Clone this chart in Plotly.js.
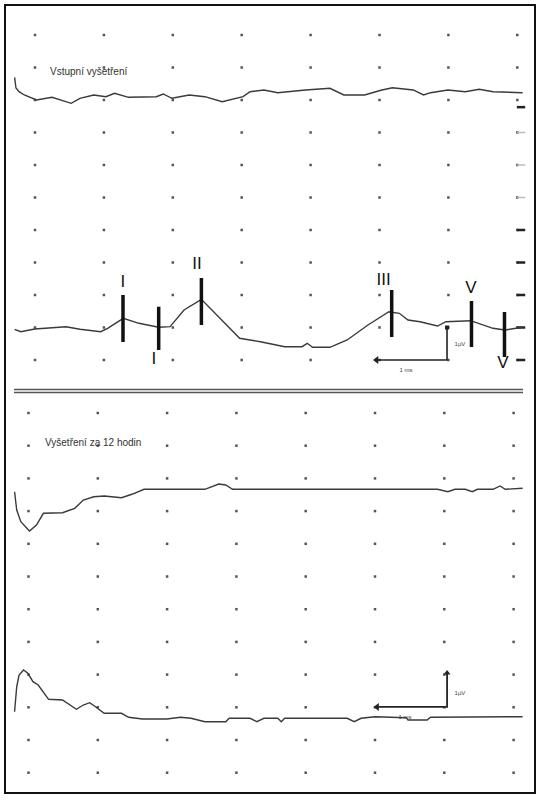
<!DOCTYPE html>
<html>
<head>
<meta charset="utf-8">
<script src="https://cdn.plot.ly/plotly-3.0.1.min.js"></script>
<style>html,body{margin:0;padding:0;background:#fff;}#chart{width:545px;height:800px;}</style>
</head>
<body>
<div id="chart"></div>
<script>
// ---------- DATA (time in ms, amplitude in µV) ----------
// Vstupní vyšetření – upper trace
const preAms = [-0.296,-0.276,-0.231,-0.155,0.022,0.248,0.525,0.652,0.853,1.029,1.155,1.357,1.761,1.861,1.987,2.238,2.466,2.717,3.020,3.120,3.322,3.524,3.927,4.280,4.482,4.784,5.035,5.187,5.489,5.640,5.742,5.993,6.245,6.447,6.649,7.077];
const preAuv = [8.698,8.369,8.255,8.154,8.000,8.083,7.898,8.052,8.154,8.102,8.206,8.083,8.102,8.185,8.052,8.154,8.102,7.948,8.102,8.255,8.308,8.225,8.308,8.360,8.154,8.154,8.308,8.378,8.308,8.154,8.225,8.308,8.255,8.329,8.255,8.225];
// Vstupní vyšetření – lower trace (with waves I–V)
const preBms = [-0.296,-0.206,-0.004,0.247,0.450,0.653,0.954,1.054,1.282,1.508,1.795,1.961,2.163,2.415,2.668,2.970,3.271,3.624,3.875,3.952,4.028,4.280,4.531,4.833,5.136,5.287,5.414,5.588,5.842,5.965,6.321,6.444,6.647,6.821,7.077];
const preBuv = [0.945,0.871,0.954,1.006,1.025,0.945,0.871,0.975,1.283,1.129,1.006,1.025,1.538,1.868,1.332,0.668,0.563,0.409,0.409,0.514,0.391,0.391,0.615,1.077,1.486,1.437,1.231,1.178,1.046,1.178,1.209,1.129,0.975,0.923,1.006];
// Vyšetření za 12 hodin – upper trace
const postAms = [-0.201,-0.170,-0.111,0.014,0.115,0.215,0.491,0.667,0.791,0.942,1.092,1.342,1.492,1.668,1.994,2.545,2.746,2.846,2.945,5.902,6.052,6.153,6.303,6.403,6.478,6.704,6.804,6.879,7.130];
const postAuv = [8.593,8.034,7.676,7.391,7.575,7.933,7.951,8.086,8.339,8.440,8.462,8.410,8.514,8.667,8.667,8.667,8.829,8.798,8.667,8.667,8.593,8.667,8.667,8.593,8.667,8.667,8.768,8.667,8.697];
// Vyšetření za 12 hodin – lower trace
const postBms = [-0.201,-0.170,-0.136,-0.071,-0.010,0.065,0.140,0.290,0.491,0.590,0.691,0.791,0.882,0.967,1.092,1.342,1.443,1.644,1.994,2.195,2.345,2.545,2.846,2.896,3.196,3.296,3.397,3.597,3.648,3.697,4.599,4.700,4.799,5.000,5.452,5.476,5.752,5.802,7.004,7.130];
const postBuv = [1.865,2.630,2.988,3.141,3.040,2.783,2.682,2.245,2.223,2.070,1.939,2.070,2.141,2.018,1.817,1.817,1.694,1.642,1.642,1.694,1.664,1.560,1.560,1.664,1.664,1.560,1.664,1.664,1.560,1.664,1.664,1.560,1.664,1.713,1.682,1.612,1.612,1.694,1.694,1.713];

// Wave markers
const peakLabels = ["I","I","II","III","V","V"];
const peakMs     = [1.277,1.795,2.415,5.177,6.335,6.814];
const peakTopUv  = [2.000,1.640,2.523,2.154,1.815,1.477];
const peakBotUv  = [0.554,0.308,1.077,0.708,0.400,0.092];
const labelMs    = [1.277,1.727,2.351,5.061,6.328,6.793];
const labelUv    = [2.385,0.000,2.923,2.431,2.185,-0.123];

// Calibration bars (1 ms × 1 µV)
const calTopMs = [4.956,5.980,5.980];
const calTopUv = [0,0,1];
const calBotMs = [5.030,6.040,6.040];
const calBotUv = [2.010,2.010,3.050];
const calLabels = ["1µV","1 ms"];

// Grid (dot raster)
const gridMsTop = [0,1,2,3,4,5,6,7];
const gridUvTop = [0,1,2,3,4,5,6,7,8,9,10];
const gridMsBot = [0,1,2,3,4,5,6,7];
const gridUvBot = [0,1,2,3,4,5,6,7,8,9,10,11];

// Right-edge reference ticks (top panel)
const tickUvDark = [0,1,2,3,4,7.78];
const tickUvLight = [5,6,7];
const tickMs = 7.054;

// Titles
const titleTop = "Vstupní vyšetření";
const titleBot = "Vyšetření za 12 hodin";

// ---------- BUILD ----------
function grid(xs, ys){ const gx=[],gy=[]; ys.forEach(y=>xs.forEach(x=>{gx.push(x);gy.push(y);})); return {gx,gy}; }
const gT = grid(gridMsTop, gridUvTop);
const gB = grid(gridMsBot, gridUvBot);

const barX=[], barY=[];
peakMs.forEach((m,i)=>{ barX.push(m,m,null); barY.push(peakTopUv[i],peakBotUv[i],null); });

const lineCol = '#3a3a3a';
const traces = [
  {x:gT.gx,y:gT.gy,xaxis:'x',yaxis:'y',mode:'markers',marker:{symbol:'square',size:2.5,color:'#555'},hoverinfo:'skip'},
  {x:gB.gx,y:gB.gy,xaxis:'x2',yaxis:'y2',mode:'markers',marker:{symbol:'square',size:2.5,color:'#555'},hoverinfo:'skip'},
  {x:tickUvDark.map(()=>tickMs),y:tickUvDark,xaxis:'x',yaxis:'y',mode:'markers',marker:{symbol:'line-ew',size:6,line:{width:2.5,color:'#222'}}},
  {x:tickUvLight.map(()=>tickMs),y:tickUvLight,xaxis:'x',yaxis:'y',mode:'markers',marker:{symbol:'line-ew',size:6,line:{width:1.5,color:'#bbb'}}},
  {x:preAms,y:preAuv,xaxis:'x',yaxis:'y',mode:'lines',line:{color:lineCol,width:1.4}},
  {x:preBms,y:preBuv,xaxis:'x',yaxis:'y',mode:'lines',line:{color:lineCol,width:1.4}},
  {x:barX,y:barY,xaxis:'x',yaxis:'y',mode:'lines',line:{color:'#111',width:3.5}},
  {x:labelMs,y:labelUv,xaxis:'x',yaxis:'y',mode:'text',text:peakLabels,textposition:'middle center',
   textfont:{family:'"Liberation Sans Narrow","Arial Narrow","Liberation Sans",Arial,sans-serif',size:17,color:'#111'}},
  {x:calTopMs,y:calTopUv,xaxis:'x',yaxis:'y',mode:'lines',line:{color:'#222',width:1.6}},
  {x:[calTopMs[0]],y:[calTopUv[0]],xaxis:'x',yaxis:'y',mode:'markers',marker:{symbol:'triangle-left',size:7,color:'#222'}},
  {x:[calTopMs[2]],y:[calTopUv[2]],xaxis:'x',yaxis:'y',mode:'markers',marker:{symbol:'square',size:4,color:'#222'}},
  {x:[6.168,5.385],y:[0.462,-0.308],xaxis:'x',yaxis:'y',mode:'text',text:calLabels,textfont:{family:'Liberation Sans, Arial, sans-serif',size:6,color:'#444'}},
  {x:postAms,y:postAuv,xaxis:'x2',yaxis:'y2',mode:'lines',line:{color:lineCol,width:1.4}},
  {x:postBms,y:postBuv,xaxis:'x2',yaxis:'y2',mode:'lines',line:{color:lineCol,width:1.4}},
  {x:[postAms[postAms.length-1],postBms[postBms.length-1]],y:[postAuv[postAuv.length-1],postBuv[postBuv.length-1]],xaxis:'x2',yaxis:'y2',mode:'markers',
   marker:{symbol:'square-open',size:6,line:{width:1.8,color:'#222'},color:'rgba(0,0,0,0)'}},
  {x:calBotMs,y:calBotUv,xaxis:'x2',yaxis:'y2',mode:'lines',line:{color:'#222',width:1.8}},
  {x:[calBotMs[0]],y:[calBotUv[0]],xaxis:'x2',yaxis:'y2',mode:'markers',marker:{symbol:'triangle-left',size:7,color:'#222'}},
  {x:[calBotMs[2]],y:[calBotUv[2]],xaxis:'x2',yaxis:'y2',mode:'markers',marker:{symbol:'triangle-up',size:6,color:'#222'}},
  {x:[6.226,5.433],y:[2.437,1.703],xaxis:'x2',yaxis:'y2',mode:'text',text:calLabels,textfont:{family:'Liberation Sans, Arial, sans-serif',size:6,color:'#444'}}
];

const ax = {visible:false,showgrid:false,zeroline:false,fixedrange:true};
const layout = {
  width:545,height:800,autosize:false,
  margin:{l:0,r:0,t:0,b:0,pad:0},
  paper_bgcolor:'#fff',plot_bgcolor:'rgba(0,0,0,0)',
  showlegend:false,hovermode:false,
  xaxis:Object.assign({},ax,{domain:[0,1],anchor:'y',range:[-35/68.9,(545-35)/68.9]}),
  yaxis:Object.assign({},ax,{domain:[0.5,1],anchor:'x',range:[(360-400)/32.5,360/32.5]}),
  xaxis2:Object.assign({},ax,{domain:[0,1],anchor:'y2',range:[-28.5/69.3,(545-28.5)/69.3]}),
  yaxis2:Object.assign({},ax,{domain:[0,0.5],anchor:'x2',range:[(772.7-800)/32.7,(772.7-400)/32.7]}),
  annotations:[
    {xref:'x',yref:'y',x:0.189,y:8.892,text:titleTop,showarrow:false,xanchor:'left',yanchor:'middle',
     font:{family:'Liberation Sans, Arial, sans-serif',size:10,color:'#333'}},
    {xref:'x2',yref:'y2',x:0.215,y:10.083,text:titleBot,showarrow:false,xanchor:'left',yanchor:'middle',
     font:{family:'Liberation Sans, Arial, sans-serif',size:10,color:'#333'}}
  ],
  shapes:[
    {type:'rect',xref:'paper',yref:'paper',x0:5/545,x1:535/545,y0:1-793/800,y1:1-5/800,line:{color:'#111',width:2},fillcolor:'rgba(0,0,0,0)'},
    {type:'line',xref:'paper',yref:'paper',x0:14/545,x1:523/545,y0:1-389.5/800,y1:1-389.5/800,line:{color:'#555',width:1.5}},
    {type:'line',xref:'paper',yref:'paper',x0:14/545,x1:523/545,y0:1-392.5/800,y1:1-392.5/800,line:{color:'#555',width:1.5}}
  ]
};
Plotly.newPlot('chart',traces,layout,{staticPlot:true,displayModeBar:false});
</script>
</body>
</html>
